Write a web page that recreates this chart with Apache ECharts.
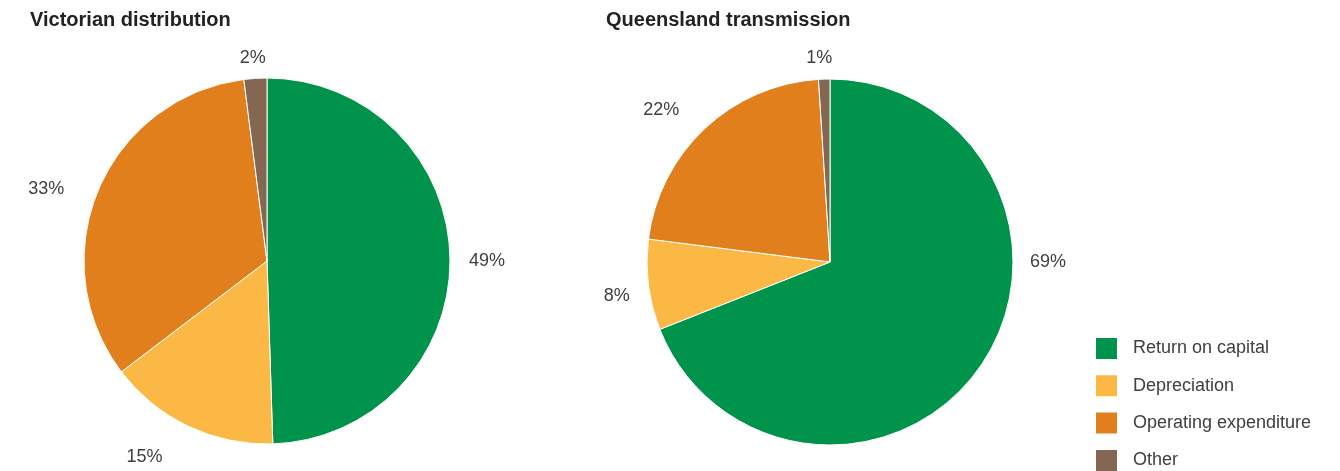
<!DOCTYPE html>
<html>
<head>
<meta charset="utf-8">
<style>
  html, body { margin: 0; padding: 0; background: #fff; }
  #chart { width: 1340px; height: 471px; }
</style>
<script src="https://cdn.jsdelivr.net/npm/echarts@6/dist/echarts.min.js"></script>
</head>
<body>
<div id="chart"></div>
<script>
// cost components and shares (%)
const categories = ["Return on capital", "Depreciation", "Operating expenditure", "Other"];
const colors = ["#00934b", "#fbb845", "#e07f1c", "#846752"];
const victorianValues = [49, 15, 33, 2];
const queenslandValues = [69, 8, 22, 1];

const font = "'Liberation Sans', Arial, sans-serif";
const R = 183;

function pieData(values) {
  return values.map((v, i) => ({ name: categories[i], value: v }));
}

// label placement around the pie: [clockwise angle from 12 o'clock, distance from centre]
const victorianLabelPos = [[90, 220], [212, 231], [288, 232], [356, 203]];
const queenslandLabelPos = [[90, 218], [261, 216], [312, 227], [357, 204]];

function makeLabelLayout(center, pos) {
  return function (params) {
    const p = pos[params.dataIndex];
    const a = p[0] * Math.PI / 180;
    return {
      x: center[0] + Math.sin(a) * p[1],
      y: center[1] - Math.cos(a) * p[1],
      align: "center",
      verticalAlign: "middle"
    };
  };
}

function pieSeries(values, center, pos) {
  return {
    type: "pie",
    center: center,
    radius: R,
    startAngle: 90,
    clockwise: true,
    avoidLabelOverlap: false,
    itemStyle: { borderColor: "#fff", borderWidth: 1 },
    label: {
      show: true,
      position: "outside",
      formatter: "{c}%",
      color: "#404040",
      fontFamily: font,
      fontSize: 18
    },
    labelLine: { show: false },
    labelLayout: makeLabelLayout(center, pos),
    emphasis: { disabled: true },
    data: pieData(values)
  };
}

const chart = echarts.init(document.getElementById("chart"), null, { renderer: "canvas" });
chart.setOption({
  animation: false,
  color: colors,
  title: [
    {
      text: "Victorian distribution",
      left: 30, top: 10, padding: 0,
      textStyle: { fontFamily: font, fontSize: 20, fontWeight: "bold", color: "#222" }
    },
    {
      text: "Queensland transmission",
      left: 606, top: 10, padding: 0,
      textStyle: { fontFamily: font, fontSize: 20, fontWeight: "bold", color: "#222" }
    }
  ],
  legend: {
    orient: "vertical",
    left: 1094,
    top: 336,
    height: 200,
    padding: 0,
    itemWidth: 23,
    itemHeight: 23,
    itemGap: 12.3,
    icon: "rect",
    data: categories,
    textStyle: { fontFamily: font, fontSize: 18, lineHeight: 20, color: "#404040", padding: [0, 0, 0, 10] }
  },
  series: [
    pieSeries(victorianValues, [267, 261], victorianLabelPos),
    pieSeries(queenslandValues, [830, 262], queenslandLabelPos)
  ]
});
</script>
</body>
</html>
